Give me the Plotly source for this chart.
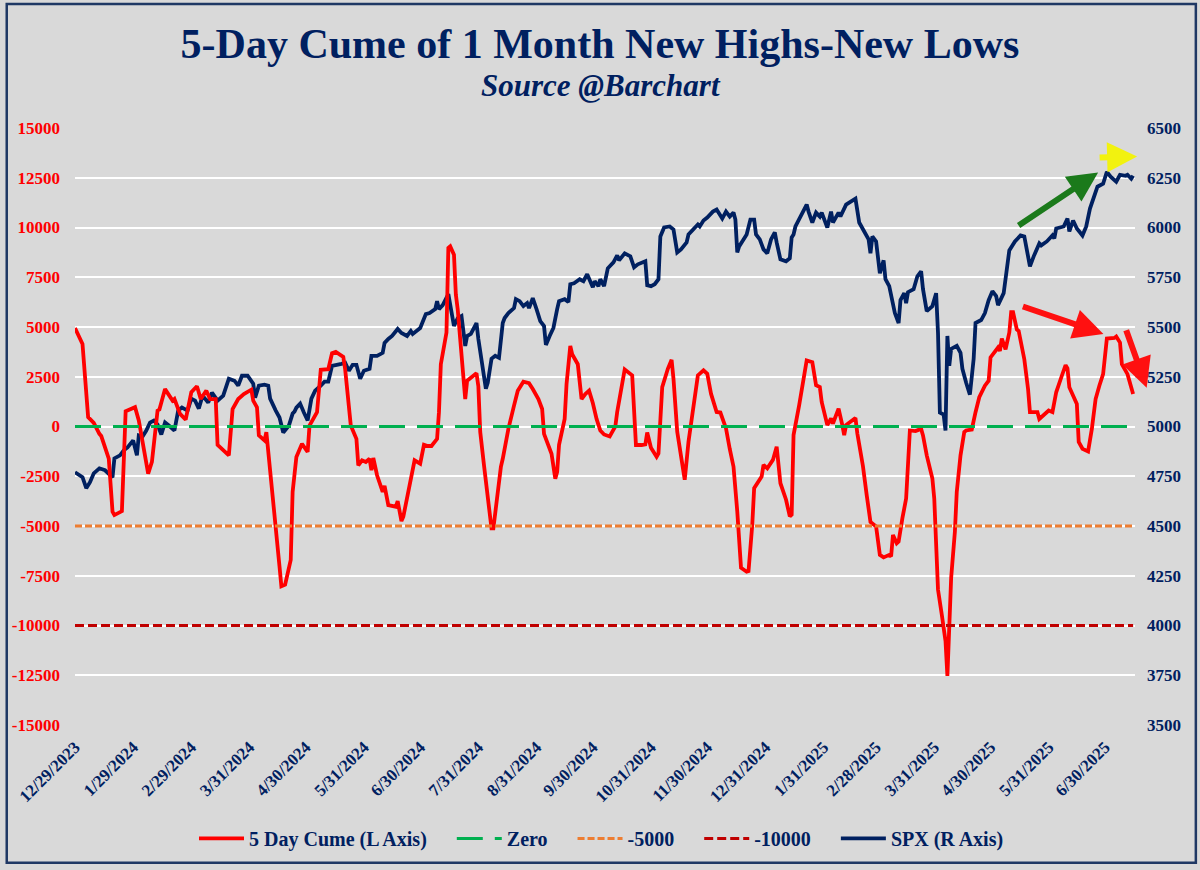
import plotly.graph_objects as go

# 5-day cume of 1-month new highs minus new lows (left axis)
cume_dates = [
    "2023-12-29", "2024-01-02", "2024-01-05", "2024-01-08", "2024-01-11", "2024-01-12",
    "2024-01-16", "2024-01-18", "2024-01-19", "2024-01-23", "2024-01-25", "2024-01-30",
    "2024-02-01", "2024-02-04", "2024-02-06", "2024-02-08", "2024-02-11", "2024-02-12",
    "2024-02-15", "2024-02-19", "2024-02-20", "2024-02-23", "2024-02-26", "2024-02-29",
    "2024-03-03", "2024-03-05", "2024-03-08", "2024-03-10", "2024-03-13", "2024-03-14",
    "2024-03-17", "2024-03-20", "2024-03-22", "2024-03-25", "2024-03-28", "2024-04-01",
    "2024-04-02", "2024-04-04", "2024-04-05", "2024-04-08", "2024-04-09", "2024-04-14",
    "2024-04-16", "2024-04-17", "2024-04-19", "2024-04-22", "2024-04-23", "2024-04-25",
    "2024-04-28", "2024-05-01", "2024-05-02", "2024-05-06", "2024-05-08", "2024-05-12",
    "2024-05-14", "2024-05-16", "2024-05-20", "2024-05-21", "2024-05-24", "2024-05-27",
    "2024-05-28", "2024-05-30", "2024-06-01", "2024-06-03", "2024-06-04", "2024-06-05",
    "2024-06-07", "2024-06-10", "2024-06-11", "2024-06-13", "2024-06-17", "2024-06-18",
    "2024-06-20", "2024-06-21", "2024-06-24", "2024-06-25", "2024-06-27", "2024-06-30",
    "2024-07-02", "2024-07-04", "2024-07-06", "2024-07-09", "2024-07-10", "2024-07-11",
    "2024-07-14", "2024-07-15", "2024-07-16", "2024-07-18", "2024-07-19", "2024-07-20",
    "2024-07-22", "2024-07-24", "2024-07-25", "2024-07-27", "2024-07-30", "2024-07-31",
    "2024-08-01", "2024-08-03", "2024-08-05", "2024-08-07", "2024-08-08", "2024-08-10",
    "2024-08-12", "2024-08-13", "2024-08-16", "2024-08-19", "2024-08-21", "2024-08-24",
    "2024-08-27", "2024-08-29", "2024-09-01", "2024-09-03", "2024-09-04", "2024-09-08",
    "2024-09-10", "2024-09-11", "2024-09-12", "2024-09-15", "2024-09-16", "2024-09-18",
    "2024-09-19", "2024-09-22", "2024-09-24", "2024-09-26", "2024-09-28", "2024-09-30",
    "2024-10-02", "2024-10-04", "2024-10-06", "2024-10-09", "2024-10-12", "2024-10-13",
    "2024-10-17", "2024-10-21", "2024-10-23", "2024-10-26", "2024-10-28", "2024-10-29",
    "2024-10-31", "2024-11-03", "2024-11-04", "2024-11-06", "2024-11-09", "2024-11-11",
    "2024-11-12", "2024-11-14", "2024-11-17", "2024-11-18", "2024-11-20", "2024-11-23",
    "2024-11-25", "2024-11-28", "2024-11-30", "2024-12-02", "2024-12-05", "2024-12-07",
    "2024-12-10", "2024-12-12", "2024-12-14", "2024-12-16", "2024-12-18", "2024-12-21",
    "2024-12-22", "2024-12-24", "2024-12-25", "2024-12-29", "2024-12-30", "2025-01-01",
    "2025-01-04", "2025-01-06", "2025-01-08", "2025-01-11", "2025-01-13", "2025-01-14",
    "2025-01-15", "2025-01-18", "2025-01-21", "2025-01-22", "2025-01-25", "2025-01-27",
    "2025-01-29", "2025-01-30", "2025-02-02", "2025-02-04", "2025-02-05", "2025-02-08",
    "2025-02-10", "2025-02-11", "2025-02-12", "2025-02-14", "2025-02-17", "2025-02-18",
    "2025-02-21", "2025-02-23", "2025-02-25", "2025-02-28", "2025-03-02", "2025-03-04",
    "2025-03-07", "2025-03-08", "2025-03-09", "2025-03-11", "2025-03-12", "2025-03-14",
    "2025-03-16", "2025-03-18", "2025-03-21", "2025-03-24", "2025-03-25", "2025-03-27",
    "2025-03-30", "2025-03-31", "2025-04-02", "2025-04-04", "2025-04-06", "2025-04-07",
    "2025-04-09", "2025-04-11", "2025-04-12", "2025-04-14", "2025-04-16", "2025-04-17",
    "2025-04-20", "2025-04-22", "2025-04-24", "2025-04-27", "2025-04-29", "2025-04-30",
    "2025-05-02", "2025-05-04", "2025-05-05", "2025-05-06", "2025-05-08", "2025-05-10",
    "2025-05-11", "2025-05-12", "2025-05-14", "2025-05-15", "2025-05-18", "2025-05-20",
    "2025-05-21", "2025-05-25", "2025-05-26", "2025-05-29", "2025-05-31", "2025-06-02",
    "2025-06-04", "2025-06-07", "2025-06-09", "2025-06-10", "2025-06-11", "2025-06-15",
    "2025-06-16", "2025-06-18", "2025-06-21", "2025-06-23", "2025-06-25", "2025-06-27",
    "2025-06-29", "2025-07-01", "2025-07-05", "2025-07-06", "2025-07-08", "2025-07-09",
    "2025-07-11", "2025-07-12", "2025-07-15",
]
cume_values = [
    4950, 4150, 470, 180, -370, -480,
    -1620, -4280, -4450, -4250, 770, 970,
    300, -1280, -2370, -1780, 800, 850,
    1880, 1300, 1380, 630, 350, 1720,
    2020, 1380, 1800, 1380, 1380, -920,
    -1200, -1450, 880, 1380, 1630, 1850,
    1300, 970, -450, -700, -280, -4780,
    -7030, -8030, -7950, -6700, -3280, -1530,
    -870, -1280, 50, 720, 2850, 2880,
    3680, 3750, 3500, 2880, 50, -620,
    -1950, -1700, -1780, -1620, -2200, -1580,
    -2450, -3280, -2980, -3950, -4030, -3750,
    -4750, -4530, -3120, -2870, -1700, -1870,
    -920, -980, -980, -620, 720, 3130,
    4720, 8970, 9050, 8630, 6630, 5880,
    3550, 1380, 2300, 2470, 2680, 2020,
    -280, -1950, -3700, -5120, -5120, -3450,
    -2030, -1620, -120, 1050, 1800, 2250,
    2180, 1880, 1380, 880, -370, -1370,
    -2620, -2280, -920, 380, 2130, 4050,
    3630, 3130, 1380, 1630, 1800, 1180,
    380, -200, -400, -500, 0, 730,
    2870, 2570, -930, -930, -900, -300,
    -1070, -1520, -1350, 1980, 2900, 3350,
    2400, -270, -1930, -2680, -770, 1070,
    2570, 2820, 2650, 1650, 730, 700,
    -100, -1130, -2020, -4270, -7100, -7300,
    -7270, -4930, -3100, -2520, -1930, -2100,
    -1680, -1020, -2850, -3680, -4520, -4430,
    -430, 1070, 2930, 3320, 3230, 2070,
    1980, 1230, 70, 400, 150, 900,
    70, -430, 70, 230, 430, -350,
    -2000, -3450, -4800, -5030, -6450, -6580,
    -6450, -6530, -5450, -5870, -5780, -4620,
    -3620, -200, -230, -120, -450, -1450,
    -2620, -3620, -8200, -9450, -10780, -12530,
    -7620, -5280, -3280, -1450, -280, -200,
    -150, 720, 1470, 2050, 2300, 3470,
    3720, 3970, 3800, 4420, 3880, 4720,
    5750, 5750, 4880, 4800, 3380, 1880,
    720, 720, 380, 630, 800, 720,
    1720, 2550, 3080, 2920, 1970, 1130,
    -780, -1120, -1250, -120, 1380, 2050,
    2630, 4420, 4450, 4520, 4220, 3130,
    2800, 2630, 1630,
]

# S&P 500 close (right axis)
spx_dates = [
    "2023-12-29", "2024-01-02", "2024-01-04", "2024-01-06", "2024-01-08", "2024-01-11",
    "2024-01-14", "2024-01-16", "2024-01-18", "2024-01-19", "2024-01-22", "2024-01-24",
    "2024-01-26", "2024-01-29", "2024-01-31", "2024-02-01", "2024-02-03", "2024-02-05",
    "2024-02-07", "2024-02-09", "2024-02-11", "2024-02-13", "2024-02-15", "2024-02-17",
    "2024-02-20", "2024-02-22", "2024-02-24", "2024-02-27", "2024-02-29", "2024-03-02",
    "2024-03-04", "2024-03-06", "2024-03-09", "2024-03-11", "2024-03-14", "2024-03-17",
    "2024-03-20", "2024-03-23", "2024-03-25", "2024-03-27", "2024-03-30", "2024-04-02",
    "2024-04-03", "2024-04-05", "2024-04-08", "2024-04-10", "2024-04-11", "2024-04-14",
    "2024-04-16", "2024-04-18", "2024-04-21", "2024-04-23", "2024-04-24", "2024-04-25",
    "2024-04-27", "2024-04-29", "2024-05-01", "2024-05-03", "2024-05-05", "2024-05-08",
    "2024-05-10", "2024-05-12", "2024-05-14", "2024-05-19", "2024-05-21", "2024-05-23",
    "2024-05-25", "2024-05-27", "2024-05-29", "2024-05-31", "2024-06-03", "2024-06-04",
    "2024-06-07", "2024-06-10", "2024-06-11", "2024-06-13", "2024-06-15", "2024-06-18",
    "2024-06-20", "2024-06-23", "2024-06-25", "2024-06-26", "2024-06-30", "2024-07-03",
    "2024-07-05", "2024-07-08", "2024-07-09", "2024-07-10", "2024-07-12", "2024-07-15",
    "2024-07-16", "2024-07-18", "2024-07-20", "2024-07-22", "2024-07-24", "2024-07-25",
    "2024-07-27", "2024-07-30", "2024-07-31", "2024-08-02", "2024-08-04", "2024-08-05",
    "2024-08-07", "2024-08-09", "2024-08-11", "2024-08-13", "2024-08-14", "2024-08-16",
    "2024-08-19", "2024-08-20", "2024-08-22", "2024-08-24", "2024-08-26", "2024-08-27",
    "2024-08-29", "2024-08-31", "2024-09-02", "2024-09-04", "2024-09-05", "2024-09-07",
    "2024-09-09", "2024-09-11", "2024-09-12", "2024-09-15", "2024-09-17", "2024-09-18",
    "2024-09-20", "2024-09-23", "2024-09-25", "2024-09-27", "2024-09-30", "2024-10-01",
    "2024-10-03", "2024-10-04", "2024-10-06", "2024-10-08", "2024-10-11", "2024-10-13",
    "2024-10-14", "2024-10-17", "2024-10-20", "2024-10-22", "2024-10-24", "2024-10-28",
    "2024-10-29", "2024-10-31", "2024-11-02", "2024-11-04", "2024-11-05", "2024-11-07",
    "2024-11-10", "2024-11-12", "2024-11-13", "2024-11-14", "2024-11-16", "2024-11-19",
    "2024-11-20", "2024-11-23", "2024-11-25", "2024-11-26", "2024-11-28", "2024-11-30",
    "2024-12-03", "2024-12-05", "2024-12-06", "2024-12-08", "2024-12-10", "2024-12-12",
    "2024-12-14", "2024-12-15", "2024-12-16", "2024-12-17", "2024-12-19", "2024-12-21",
    "2024-12-23", "2024-12-25", "2024-12-26", "2024-12-28", "2024-12-30", "2025-01-01",
    "2025-01-03", "2025-01-05", "2025-01-06", "2025-01-08", "2025-01-11", "2025-01-13",
    "2025-01-14", "2025-01-15", "2025-01-16", "2025-01-18", "2025-01-22", "2025-01-23",
    "2025-01-25", "2025-01-27", "2025-01-29", "2025-01-30", "2025-02-02", "2025-02-04",
    "2025-02-05", "2025-02-08", "2025-02-09", "2025-02-12", "2025-02-14", "2025-02-17",
    "2025-02-19", "2025-02-21", "2025-02-22", "2025-02-24", "2025-02-25", "2025-02-26",
    "2025-02-28", "2025-03-01", "2025-03-02", "2025-03-04", "2025-03-05", "2025-03-07",
    "2025-03-09", "2025-03-10", "2025-03-12", "2025-03-13", "2025-03-15", "2025-03-16",
    "2025-03-17", "2025-03-20", "2025-03-22", "2025-03-24", "2025-03-25", "2025-03-27",
    "2025-03-30", "2025-04-01", "2025-04-02", "2025-04-03", "2025-04-05", "2025-04-06",
    "2025-04-07", "2025-04-08", "2025-04-09", "2025-04-12", "2025-04-14", "2025-04-15",
    "2025-04-17", "2025-04-19", "2025-04-21", "2025-04-22", "2025-04-25", "2025-04-27",
    "2025-04-29", "2025-05-01", "2025-05-03", "2025-05-04", "2025-05-07", "2025-05-09",
    "2025-05-10", "2025-05-13", "2025-05-16", "2025-05-18", "2025-05-19", "2025-05-21",
    "2025-05-23", "2025-05-25", "2025-05-26", "2025-05-27", "2025-05-30", "2025-06-02",
    "2025-06-03", "2025-06-04", "2025-06-08", "2025-06-10", "2025-06-11", "2025-06-13",
    "2025-06-15", "2025-06-18", "2025-06-20", "2025-06-22", "2025-06-24", "2025-06-26",
    "2025-06-29", "2025-07-01", "2025-07-03", "2025-07-06", "2025-07-08", "2025-07-11",
    "2025-07-12", "2025-07-14", "2025-07-15",
]
spx_values = [
    4770, 4745, 4690, 4720, 4765, 4790,
    4780, 4765, 4745, 4840, 4855, 4880,
    4895, 4930, 4855, 4955, 4950, 4980,
    5020, 5030, 5010, 4960, 5020, 5005,
    4980, 5080, 5095, 5080, 5140, 5130,
    5090, 5155, 5120, 5170, 5130, 5155,
    5240, 5230, 5205, 5255, 5255, 5215,
    5145, 5205, 5210, 5205, 5140, 5080,
    5045, 4970, 5005, 5065, 5075, 5095,
    5115, 5070, 5030, 5140, 5180, 5205,
    5225, 5225, 5305, 5315, 5320, 5280,
    5310, 5310, 5240, 5280, 5290, 5355,
    5355, 5370, 5420, 5440, 5455, 5490,
    5470, 5455, 5480, 5465, 5495, 5565,
    5570, 5590, 5630, 5590, 5610, 5665,
    5605, 5505, 5545, 5555, 5405, 5455,
    5465, 5520, 5440, 5305, 5190, 5220,
    5340, 5355, 5345, 5520, 5545, 5570,
    5595, 5640, 5630, 5605, 5620, 5595,
    5645, 5590, 5530, 5505, 5410, 5455,
    5495, 5590, 5630, 5640, 5625, 5715,
    5720, 5740, 5730, 5765, 5700, 5730,
    5705, 5740, 5705, 5795, 5825, 5860,
    5835, 5870, 5855, 5800, 5815, 5830,
    5710, 5705, 5715, 5740, 5955, 6000,
    6005, 5990, 5930, 5875, 5890, 5925,
    5965, 5995, 6015, 6005, 6035, 6050,
    6080, 6090, 6075, 6045, 6080, 6055,
    6075, 6040, 5875, 5905, 5935, 5965,
    6040, 6040, 5965, 5940, 5890, 5870,
    5940, 5975, 5925, 5840, 5830, 5845,
    5950, 5965, 6005, 6045, 6115, 6080,
    6025, 6075, 6055, 6075, 6000, 6080,
    6025, 6075, 6055, 6115, 6125, 6145,
    6025, 5990, 5980, 5940, 5870, 5955,
    5930, 5855, 5770, 5835, 5740, 5705,
    5610, 5570, 5520, 5635, 5670, 5620,
    5675, 5690, 5755, 5780, 5690, 5580,
    5605, 5670, 5470, 5070, 5060, 4980,
    5455, 5305, 5390, 5405, 5370, 5290,
    5220, 5160, 5340, 5520, 5535, 5570,
    5635, 5680, 5655, 5610, 5670, 5805,
    5885, 5930, 5960, 5955, 5905, 5805,
    5855, 5905, 5920, 5910, 5930, 5960,
    5945, 5995, 6005, 6045, 5980, 6035,
    5995, 5960, 6005, 6095, 6145, 6205,
    6220, 6280, 6255, 6230, 6265, 6260,
    6265, 6245, 6260,
]

# horizontal reference series
ref_names = ["Zero", "-5000", "-10000"]
ref_levels = [0, -5000, -10000]

# axis ticks
x_tick_dates = [
    "2023-12-29", "2024-01-29", "2024-02-29", "2024-03-31", "2024-04-30", "2024-05-31",
    "2024-06-30", "2024-07-31", "2024-08-31", "2024-09-30", "2024-10-31", "2024-11-30",
    "2024-12-31", "2025-01-31", "2025-02-28", "2025-03-31", "2025-04-30", "2025-05-31",
    "2025-06-30",
]
x_tick_labels = [
    "12/29/2023", "1/29/2024", "2/29/2024", "3/31/2024", "4/30/2024", "5/31/2024",
    "6/30/2024", "7/31/2024", "8/31/2024", "9/30/2024", "10/31/2024", "11/30/2024",
    "12/31/2024", "1/31/2025", "2/28/2025", "3/31/2025", "4/30/2025", "5/31/2025",
    "6/30/2025",
]
left_ticks = [-15000, -12500, -10000, -7500, -5000, -2500, 0,
              2500, 5000, 7500, 10000, 12500, 15000]
right_ticks = [3500, 3750, 4000, 4250, 4500, 4750, 5000,
               5250, 5500, 5750, 6000, 6250, 6500]

NAVY = "#002060"
BG = "#d9d9d9"
SERIF = "Liberation Serif"
PAD = "\u00a0" * 4  # extra room between legend entries

fig = go.Figure()

# left-axis series sit on the overlaying axis y2 so they are drawn above SPX
fig.add_trace(go.Scatter(
    x=cume_dates, y=cume_values, mode="lines", name="5 Day Cume (L Axis)" + PAD,
    line=dict(color="#ff0000", width=3.8), yaxis="y2"
))

ref_styles = [
    dict(color="#00b050", width=3, dash="26px,12px"),
    dict(color="#ed7d31", width=3, dash="7px,3px"),
    dict(color="#c00000", width=3, dash="9px,4px"),
]
for name, level, style in zip(ref_names, ref_levels, ref_styles):
    fig.add_trace(go.Scatter(
        x=[cume_dates[0], cume_dates[-1]], y=[level, level],
        mode="lines", name=name + PAD, line=style, yaxis="y2"
    ))

fig.add_trace(go.Scatter(
    x=spx_dates, y=spx_values, mode="lines", name="SPX (R Axis)",
    line=dict(color=NAVY, width=3.8), yaxis="y"
))

# arrows drawn on the chart (tip position, tail offset in px, colour)
arrows = [
    dict(x=0.9652, y=0.9255, ax=-81, ay=54, color="#1b7a1b"),
    dict(x=1.0020, y=0.9522, ax=-39, ay=1, color="#f2f20f"),
    dict(x=0.9702, y=0.6550, ax=-82, ay=-28, color="#ff1010"),
    dict(x=1.0110, y=0.5650, ax=-21, ay=-59, color="#ff1010"),
]
annotations = [
    dict(text="<i>Source @Barchart</i>", xref="paper", yref="paper",
         x=0.4958, y=1.0717, xanchor="center", yanchor="middle", showarrow=False,
         font=dict(family=SERIF, size=31, color=NAVY, weight="bold"))
]
for a in arrows:
    annotations.append(dict(
        x=a["x"], y=a["y"], xref="paper", yref="paper", ax=a["ax"], ay=a["ay"],
        text="", showarrow=True, arrowhead=2, arrowsize=1.0, arrowwidth=6,
        arrowcolor=a["color"]
    ))

fig.update_layout(
    width=1200, height=870,
    paper_bgcolor=BG, plot_bgcolor=BG,
    margin=dict(l=72, r=65, t=128, b=142),
    title=dict(
        text="5-Day Cume of 1 Month New Highs-New Lows",
        x=0.5, xref="container", xanchor="center",
        y=1 - 43 / 870, yref="container", yanchor="middle",
        font=dict(family=SERIF, size=42, color=NAVY, weight="bold")
    ),
    xaxis=dict(
        type="date", range=["2023-12-29", "2025-07-16"],
        tickmode="array", tickvals=x_tick_dates, ticktext=x_tick_labels,
        tickangle=-45, showgrid=False, zeroline=False, showline=False,
        ticks="", ticklabelstandoff=8,
        tickfont=dict(family=SERIF, size=17, color=NAVY, weight="bold")
    ),
    # SPX axis (right side) is the base axis and carries the white grid
    yaxis=dict(
        range=[3500, 6500], side="right",
        tickmode="array", tickvals=right_ticks,
        ticktext=[str(v) for v in right_ticks],
        showgrid=True, gridcolor="white", gridwidth=1.8, zeroline=False,
        showline=False, ticks="", ticklabelstandoff=11,
        tickfont=dict(family=SERIF, size=17, color=NAVY, weight="bold")
    ),
    yaxis2=dict(
        range=[-15000, 15000], overlaying="y", side="left",
        tickmode="array", tickvals=left_ticks,
        ticktext=[str(v) for v in left_ticks],
        showgrid=False, zeroline=False, showline=False, ticks="",
        ticklabelstandoff=14,
        tickfont=dict(family=SERIF, size=17, color="#ff0000", weight="bold")
    ),
    legend=dict(
        orientation="h", x=0.4967, xanchor="center", y=-0.19, yanchor="middle",
        bgcolor="rgba(0,0,0,0)", itemwidth=45,
        font=dict(family=SERIF, size=20, color=NAVY, weight="bold")
    ),
    annotations=annotations,
    shapes=[dict(
        type="rect", xref="paper", yref="paper",
        x0=-0.0644, x1=1.0574, y0=-0.2308, y1=1.2075,
        line=dict(color="#1f3864", width=2.5), fillcolor="rgba(0,0,0,0)",
        layer="above"
    )],
    showlegend=True,
    hovermode=False,
)

# the page body has a default 8px margin; remove it so the figure sits at 0,0
fig.write_html("out.html", config={"displayModeBar": False},
               post_script="document.body.style.margin='0';")
